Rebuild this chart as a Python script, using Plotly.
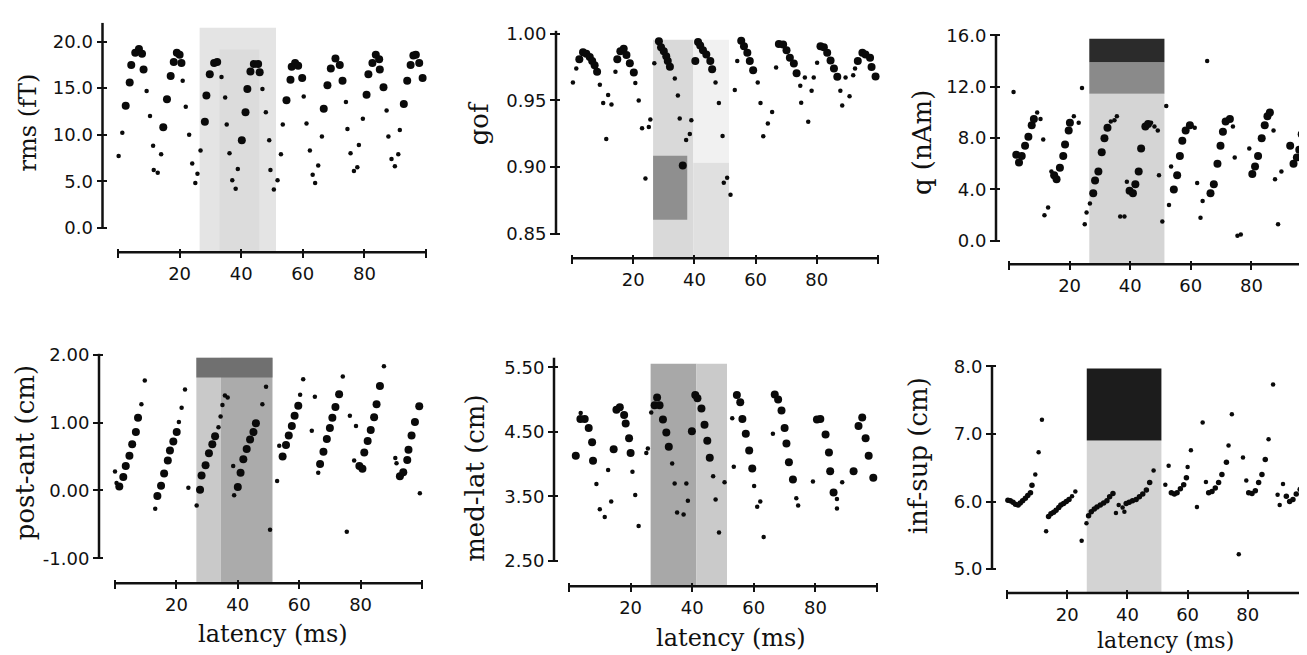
import plotly.graph_objects as go

# ---------------- data ----------------
rms_big_lat = [2.5, 3.8, 4.3, 5.6, 6.8, 7.8, 8.3, 14.7, 15.9, 17.1, 18.1, 19.1, 20.0, 20.6,
               28.2, 28.7, 29.8, 31.2, 32.2, 40.2, 41.4, 42.0, 43.0, 44.1, 45.5, 46.0,
               54.7, 56.0, 56.4, 57.5, 58.5, 59.8, 66.8, 68.0, 69.1, 70.6, 72.0, 72.9,
               80.7, 81.3, 82.6, 83.7, 84.8, 85.0, 86.2, 92.8, 93.9, 95.0, 95.9, 96.7, 97.8, 98.9]
rms_big_val = [13.1, 15.6, 17.5, 18.8, 19.2, 18.7, 17.0, 10.8, 13.8, 16.3, 17.8, 18.8, 18.6, 17.7,
               11.4, 14.2, 16.5, 17.7, 17.8, 9.4, 12.4, 14.9, 16.8, 17.6, 17.6, 16.7,
               13.7, 15.9, 17.3, 17.7, 17.4, 16.1, 12.8, 15.3, 17.1, 18.2, 17.5, 15.8,
               14.3, 16.5, 17.7, 18.6, 18.1, 17.0, 15.1, 13.3, 15.8, 17.5, 18.5, 18.6, 17.7, 16.1]
rms_small_lat = [0.2, 1.4, 9.3, 10.4, 11.4, 11.6, 12.9, 14.0, 21.0, 22.0, 23.1, 24.1, 25.1, 25.8, 26.8,
                 33.6, 34.8, 35.3, 36.2, 37.1, 38.2, 38.9, 46.9, 48.0, 49.1, 49.5, 50.6, 51.8, 52.9, 53.5,
                 60.3, 61.2, 62.3, 63.2, 64.0, 65.0, 66.2, 74.0, 74.5, 75.5, 76.6, 77.7, 78.2, 79.5,
                 87.2, 87.8, 88.8, 89.9, 91.0, 91.5]
rms_small_val = [7.7, 10.2, 14.7, 12.0, 8.8, 6.2, 5.9, 7.9, 15.8, 13.0, 10.0, 6.9, 4.8, 5.8, 8.3,
                 16.2, 14.0, 11.1, 8.0, 5.1, 4.2, 6.3, 14.9, 12.4, 9.4, 6.2, 4.1, 5.1, 7.9, 11.1,
                 14.1, 11.2, 8.3, 5.7, 4.8, 6.7, 9.8, 13.5, 10.6, 8.0, 6.1, 6.5, 8.9, 11.7,
                 12.6, 9.8, 7.4, 6.6, 7.9, 10.5]

gof_big_lat = [2.4, 3.6, 4.7, 5.8, 6.6, 7.4, 8.2, 14.8, 15.8, 16.9, 17.8, 18.9, 20.2,
               28.4, 29.1, 30.0, 30.8, 31.3, 32.0, 36.2, 40.3, 41.2, 41.9, 42.8, 43.9, 45.2, 45.8,
               55.3, 56.2, 57.3, 58.1, 59.2, 67.6, 69.0, 70.1, 71.2, 72.5, 73.4,
               81.2, 82.3, 83.4, 84.5, 85.6, 86.7, 93.4, 94.9, 95.9, 97.4, 97.9, 99.2]
gof_big_val = [0.9808, 0.9862, 0.9850, 0.9825, 0.9795, 0.9763, 0.9714, 0.9808, 0.9869, 0.9887, 0.9840, 0.9778, 0.9709,
               0.9943, 0.9899, 0.9869, 0.9832, 0.9795, 0.9753, 0.9011, 0.9795, 0.9938, 0.9911, 0.9877, 0.9845, 0.9795, 0.9734,
               0.9948, 0.9906, 0.9857, 0.9795, 0.9726, 0.9924, 0.9919, 0.9877, 0.9820, 0.9776, 0.9704,
               0.9906, 0.9899, 0.9857, 0.9800, 0.9739, 0.9677, 0.9795, 0.9857, 0.9845, 0.9820, 0.9750, 0.9680]
gof_small_lat = [0.3, 1.4, 9.1, 10.2, 11.2, 11.8, 12.9, 14.2, 20.7, 21.8, 22.9, 24.0, 25.1, 25.6, 26.9,
                 33.6, 34.6, 35.2, 37.3, 38.5, 39.0, 46.9, 48.0, 49.2, 49.6, 50.7, 51.8, 53.2, 54.0,
                 60.7, 61.6, 62.5, 64.0, 65.4, 66.7, 74.6, 74.9, 76.1, 77.2, 78.3, 79.0, 80.1,
                 87.7, 88.3, 89.4, 90.7, 91.9, 92.5]
gof_small_val = [0.9635, 0.9739, 0.9618, 0.9480, 0.9211, 0.9541, 0.9470, 0.9714, 0.9630, 0.9499, 0.9290, 0.8914, 0.9300, 0.9356, 0.9778,
                 0.9665, 0.9536, 0.9364, 0.9203, 0.9248, 0.9351, 0.9635, 0.9480, 0.9233, 0.8882, 0.8919, 0.8791, 0.9578, 0.9795,
                 0.9635, 0.9480, 0.9230, 0.9327, 0.9413, 0.9746, 0.9610, 0.9482, 0.9672, 0.9339, 0.9573, 0.9672, 0.9783,
                 0.9573, 0.9462, 0.9672, 0.9531, 0.9689, 0.9739]

q_big_lat = [2.4, 3.3, 4.2, 5.3, 6.4, 7.5, 8.2, 14.9, 15.7, 16.8, 17.9, 18.5, 19.7, 20.1,
             27.8, 28.4, 29.5, 30.6, 31.5, 32.5, 39.8, 40.9, 41.7, 42.8, 43.6, 45.0, 45.9,
             54.4, 55.5, 56.4, 57.2, 58.3, 59.7, 66.5, 67.6, 68.8, 69.8, 70.6, 71.5, 72.9,
             80.3, 81.2, 82.2, 83.4, 84.4, 85.3, 86.1, 92.8, 93.9, 95.0, 95.8, 96.6, 97.7, 98.6]
q_big_val = [6.7, 6.1, 6.6, 7.4, 8.1, 9.0, 9.5, 5.1, 4.8, 5.7, 6.6, 7.5, 8.6, 9.2,
             3.7, 4.7, 5.4, 6.9, 8.0, 8.8, 3.9, 3.7, 4.4, 5.4, 7.2, 8.9, 9.1,
             4.0, 5.1, 6.6, 7.8, 8.6, 9.0, 3.7, 4.4, 6.0, 7.4, 8.5, 9.3, 9.5,
             5.2, 5.8, 6.6, 8.0, 9.0, 9.7, 10.0, 7.4, 6.0, 6.5, 7.1, 8.3, 9.1, 9.8]
q_small_lat = [1.5, 9.3, 10.4, 11.3, 11.7, 12.9, 14.0, 21.4, 23.0, 24.1, 25.0, 25.6, 26.7,
               33.6, 34.8, 35.6, 36.7, 38.1, 38.9, 46.9, 48.0, 49.1, 49.5, 50.6, 51.9, 52.8, 53.5,
               61.3, 62.1, 63.2, 63.9, 65.4, 73.9, 74.5, 75.4, 76.5, 79.3, 87.3, 87.8, 88.8, 89.9]
q_small_val = [11.6, 10.0, 9.5, 7.9, 2.0, 2.6, 5.4, 9.7, 9.2, 11.9, 1.3, 2.2, 2.9,
               9.3, 9.4, 9.7, 1.9, 1.9, 4.6, 9.2, 8.9, 8.6, 5.1, 1.5, 10.5, 2.8, 5.8,
               8.8, 4.5, 1.8, 3.1, 14.0, 8.9, 6.5, 0.4, 0.5, 7.2, 8.6, 4.8, 1.3, 5.4]

pa_big_lat = [1.4, 2.7, 3.5, 4.7, 5.6, 6.8, 7.5, 13.8, 15.0, 16.0, 17.2, 17.9, 19.0, 20.1,
              27.7, 28.2, 29.5, 30.6, 31.7, 32.6, 40.0, 40.9, 41.8, 42.9, 44.0, 45.1, 45.9,
              54.6, 55.7, 56.6, 57.6, 58.5, 59.7, 66.8, 67.9, 69.0, 70.0, 70.8, 71.8, 73.0,
              79.6, 80.6, 81.2, 82.3, 83.3, 84.4, 85.2, 86.3, 92.8, 93.9, 95.2, 95.6, 96.6, 97.7, 99.1]
pa_big_val = [0.06, 0.20, 0.36, 0.51, 0.68, 0.86, 1.07, -0.08, 0.07, 0.25, 0.44, 0.59, 0.72, 0.86,
              0.01, 0.22, 0.37, 0.55, 0.68, 0.80, 0.05, 0.26, 0.46, 0.61, 0.75, 0.86, 0.99,
              0.50, 0.67, 0.81, 0.95, 1.10, 1.25, 0.39, 0.57, 0.76, 0.92, 1.07, 1.23, 1.42,
              0.36, 0.32, 0.56, 0.73, 0.89, 1.08, 1.27, 1.54, 0.21, 0.27, 0.45, 0.60, 0.81, 1.01, 1.24]
pa_small_lat = [0.0, 0.5, 8.6, 9.7, 13.1, 20.8, 21.7, 22.8, 23.9, 26.6, 33.7, 34.4, 35.0, 35.8, 36.7, 38.5, 38.8,
                48.0, 49.2, 50.5, 52.8, 53.5, 60.3, 61.3, 64.1, 65.1, 66.2, 74.2, 75.5, 76.5, 77.9, 78.5,
                87.6, 91.3, 91.7, 99.3]
pa_small_val = [0.28, 0.11, 1.27, 1.62, -0.27, 1.01, 1.22, 1.49, 0.04, -0.22, 0.93, 1.09, 1.26, 1.40, 1.37, 0.36, -0.07,
                1.27, 1.53, -0.58, 0.14, 0.66, 1.41, 1.64, 0.88, 1.38, 0.26, 1.68, -0.61, 1.10, 0.44, 0.95,
                1.83, 0.48, 0.40, -0.04]

ml_big_lat = [2.2, 3.7, 5.1, 6.4, 7.5, 7.8, 14.5, 15.4, 16.5, 17.9, 18.4, 19.5, 20.0,
              27.8, 28.6, 29.4, 30.5, 31.6, 32.4, 39.9, 41.0, 41.7, 43.0, 44.0, 44.9, 45.7,
              54.5, 55.6, 56.3, 57.4, 58.5, 59.5, 66.8, 67.9, 69.0, 70.0, 70.6, 71.4, 72.7,
              80.5, 81.6, 83.3, 84.4, 84.8, 85.9, 92.4, 94.0, 95.2, 96.3, 97.3, 98.8]
ml_big_val = [4.13, 4.70, 4.70, 4.56, 4.34, 4.05, 4.23, 4.84, 4.88, 4.76, 4.63, 4.40, 4.17,
              4.91, 5.03, 4.91, 4.69, 4.49, 4.27, 4.51, 5.07, 5.02, 4.86, 4.61, 4.36, 4.10,
              5.07, 4.96, 4.70, 4.47, 4.21, 3.93, 5.08, 5.00, 4.83, 4.56, 4.32, 4.03, 3.76,
              4.69, 4.70, 4.46, 4.18, 3.89, 3.56, 3.89, 4.59, 4.72, 4.40, 4.13, 3.79]
ml_small_lat = [3.8, 8.9, 10.0, 11.6, 12.7, 13.7, 20.6, 21.5, 22.6, 25.1, 25.6, 26.7,
                33.5, 34.3, 35.1, 37.2, 38.1, 38.6, 46.8, 47.6, 48.7, 50.5, 53.0, 53.5,
                60.1, 61.1, 62.1, 63.2, 66.2, 73.8, 74.4, 79.2, 87.0, 87.0, 88.7]
ml_small_val = [4.79, 3.69, 3.30, 3.18, 3.91, 3.42, 3.88, 3.52, 3.04, 4.17, 4.24, 4.80,
                4.01, 3.70, 3.25, 3.22, 3.70, 3.43, 3.81, 3.45, 2.94, 3.72, 4.71, 3.96,
                3.66, 3.34, 3.42, 2.87, 4.47, 3.47, 3.36, 3.73, 3.46, 3.31, 3.72]

is_big_lat = [0.3, 1.1, 2.0, 2.8, 3.7, 4.4, 5.2, 6.1, 6.9, 7.8, 8.3,
              13.8, 14.6, 15.5, 16.3, 17.2, 17.9, 18.8, 19.7, 20.6,
              27.1, 28.0, 29.0, 29.9, 31.0, 32.1, 33.2, 34.1, 35.2,
              39.6, 40.6, 41.7, 42.9, 44.0, 45.1, 46.3, 47.4,
              54.6, 55.6, 56.5, 57.6, 58.7, 59.6, 67.0, 68.1, 69.2, 70.3, 71.4, 72.9,
              80.3, 81.4, 82.5, 83.6, 84.7, 85.8, 92.8, 93.9, 95.0, 96.1, 97.4, 98.6]
is_big_val = [6.02, 6.01, 5.99, 5.96, 5.95, 5.98, 6.01, 6.05, 6.09, 6.13, 6.24,
              5.78, 5.82, 5.84, 5.87, 5.91, 5.95, 5.97, 6.00, 6.03,
              5.79, 5.85, 5.89, 5.92, 5.95, 5.98, 6.01, 6.07, 6.12,
              5.97, 5.99, 6.01, 6.03, 6.07, 6.11, 6.17, 6.28,
              6.13, 6.11, 6.13, 6.19, 6.25, 6.35, 6.13, 6.15, 6.20, 6.28, 6.40, 6.58,
              6.13, 6.12, 6.16, 6.28, 6.40, 6.62, 6.08, 6.00, 6.03, 6.11, 6.18, 6.30]
is_small_lat = [9.4, 10.5, 11.6, 13.0, 21.6, 22.7, 24.8, 26.4, 36.2, 37.1, 38.4, 39.0, 48.7, 52.6, 53.7,
                60.0, 61.1, 63.1, 65.0, 66.1, 73.6, 74.7, 77.0, 78.4, 79.5, 86.9, 88.4, 89.9, 90.6, 91.7]
is_small_val = [6.40, 6.73, 7.21, 5.56, 6.08, 6.15, 5.42, 5.68, 5.83, 5.95, 5.91, 5.85, 6.46, 6.25, 6.53,
                6.51, 6.76, 5.92, 7.17, 6.29, 6.83, 7.29, 5.22, 6.65, 6.31, 6.92, 7.73, 6.10, 5.95, 6.26]

lat_ticks = [0, 20, 40, 60, 80, 100]
lat_ticktext = ["", "20", "40", "60", "80", ""]
rms_ticks = [0, 5, 10, 15, 20]
rms_ticktext = ["0.0", "5.0", "10.0", "15.0", "20.0"]
gof_ticks = [0.85, 0.90, 0.95, 1.00]
gof_ticktext = ["0.85", "0.90", "0.95", "1.00"]
q_ticks = [0, 4, 8, 12, 16]
q_ticktext = ["0.0", "4.0", "8.0", "12.0", "16.0"]
pa_ticks = [-1, 0, 1, 2]
pa_ticktext = ["-1.00", "0.00", "1.00", "2.00"]
ml_ticks = [2.5, 3.5, 4.5, 5.5]
ml_ticktext = ["2.50", "3.50", "4.50", "5.50"]
is_ticks = [5, 6, 7, 8]
is_ticktext = ["5.0", "6.0", "7.0", "8.0"]
window_ms = [26.5, 51.3]

# ---------------- layout geometry (screen pixels) ----------------
W, H = 1307, 655
OFF = 8  # default page margin around the figure
TICK_FONT = dict(family="DejaVu Sans", size=18, color="#111111")
TITLE_FONT_FAMILY = "DejaVu Serif"

panels = [
    dict(big=(rms_big_lat, rms_big_val), small=(rms_small_lat, rms_small_val), sizes=(8, 4.5),
         yline=102.5, ya=(0, 221), yb=(20, 32), ytop=13, ylo=0, x0=118, x100=426, xline=246, right=432,
         ticks=(rms_ticks, rms_ticktext), title="rms (fT)", tpos=(28, 114), tsize=24,
         shades=[(0, 1, 18, 246, "#e4e4e4"), (0.26, 0.78, 40, 246, "#dcdcdc")]),
    dict(big=(gof_big_lat, gof_big_val), small=(gof_small_lat, gof_small_val), sizes=(8, 4.5),
         yline=556, ya=(0.85, 227), yb=(1.00, 24), ytop=21, ylo=0.85, x0=572, x100=878, xline=252, right=884,
         ticks=(gof_ticks, gof_ticktext), title="gof", tpos=(479, 115), tsize=26,
         shades=[(0, 0.53, 30, 252, "#d9d9d9"), (0.53, 1, 30, 155, "#f1f1f1"),
                 (0.53, 1, 155, 252, "#e0e0e0"), (0, 0.45, 148, 213, "#8f8f8f")]),
    dict(big=(q_big_lat, q_big_val), small=(q_small_lat, q_small_val), sizes=(8, 4.5),
         yline=996, ya=(0, 234.3), yb=(16, 25.7), ytop=25, ylo=0, x0=1009, x100=1312, xline=258, right=1315,
         ticks=(q_ticks, q_ticktext), title="q (nAm)", tpos=(922, 135), tsize=26,
         shades=[(0, 1, 85, 258, "#d5d5d5"), (0, 1, 53, 85, "#8a8a8a"), (0, 1, 29, 53, "#2b2b2b")]),
    dict(big=(pa_big_lat, pa_big_val), small=(pa_small_lat, pa_small_val), sizes=(8, 4.5),
         yline=99, ya=(-1, 556.7), yb=(2, 350), ytop=349, ylo=-1, x0=115, x100=422, xline=582, right=428,
         ticks=(pa_ticks, pa_ticktext), title="post-ant (cm)", tpos=(25, 450), tsize=26,
         shades=[(0, 0.32, 353, 582, "#c9c9c9"), (0.32, 1, 353, 582, "#ababab"), (0, 1, 353, 373, "#707070")]),
    dict(big=(ml_big_lat, ml_big_val), small=(ml_small_lat, ml_small_val), sizes=(8, 4.5),
         yline=554, ya=(2.5, 559.3), yb=(5.5, 362.7), ytop=353, ylo=2.5, x0=569, x100=877, xline=585, right=884,
         ticks=(ml_ticks, ml_ticktext), title="med-lat (cm)", tpos=(475, 475), tsize=26,
         shades=[(0, 0.6, 359, 585, "#a8a8a8"), (0.6, 1, 359, 585, "#cacaca")]),
    dict(big=(is_big_lat, is_big_val), small=(is_small_lat, is_small_val), sizes=(5.5, 4.5),
         yline=992, ya=(5, 567.7), yb=(8, 361.7), ytop=361, ylo=5, x0=1007, x100=1308, xline=592, right=1315,
         ticks=(is_ticks, is_ticktext), title="inf-sup (cm)", tpos=(918, 453), tsize=26,
         shades=[(0, 1, 437, 592, "#d3d3d3"), (0, 1, 364, 437, "#1c1c1c")]),
]

xlabel_pos = [(273, 634, 24), (731, 638, 24), (1165, 640, 22)]

fig = go.Figure()
shapes = []
annotations = []
layout_axes = {}


def px_x(p):
    return (p - OFF) / W


def px_y(p):
    return 1 - (p - OFF) / H


for i, p in enumerate(panels, start=1):
    xname = "x" if i == 1 else f"x{i}"
    yname = "y" if i == 1 else f"y{i}"
    sx = (p["x100"] - p["x0"]) / 100.0
    L = p["yline"] + 5
    R = p["right"]
    (va, pa), (vb, pb) = p["ya"], p["yb"]
    sy = (pa - pb) / (vb - va)

    def yval(px, va=va, pa=pa, sy=sy):
        return va + (pa - px) / sy

    def ypix(v, va=va, pa=pa, sy=sy):
        return pa - (v - va) * sy

    def xpix(v, x0=p["x0"], sx=sx):
        return x0 + v * sx

    T = p["ytop"]
    B = p["xline"] - 4
    layout_axes["xaxis" if i == 1 else f"xaxis{i}"] = dict(
        domain=[max(px_x(L), 0.0), min(px_x(R), 1.0)],
        range=[(L - p["x0"]) / sx, (OFF + min(px_x(R), 1.0) * W - p["x0"]) / sx],
        anchor=yname, showline=False, showgrid=False, zeroline=False,
        tickmode="array", tickvals=lat_ticks, ticktext=lat_ticktext,
        ticks="outside", ticklen=9, tickwidth=2, tickcolor="#111111",
        tickfont=TICK_FONT, ticklabelstandoff=0, fixedrange=True)
    layout_axes["yaxis" if i == 1 else f"yaxis{i}"] = dict(
        domain=[px_y(B), px_y(T)], range=[yval(B), yval(T)],
        anchor=xname, showline=False, showgrid=False, zeroline=False,
        tickmode="array", tickvals=p["ticks"][0], ticktext=p["ticks"][1],
        ticks="outside", ticklen=10, tickwidth=2, tickcolor="#111111",
        tickfont=TICK_FONT, fixedrange=True)

    # response window shading
    w0, w1 = xpix(window_ms[0]), xpix(window_ms[1])
    for f0, f1, t, b, col in p["shades"]:
        shapes.append(dict(type="rect", xref="paper", yref="paper",
                           x0=px_x(w0 + f0 * (w1 - w0)), x1=px_x(w0 + f1 * (w1 - w0)),
                           y0=px_y(b), y1=px_y(t), fillcolor=col, line=dict(width=0), layer="below"))
    # axis lines
    shapes.append(dict(type="line", xref="paper", yref="paper",
                       x0=px_x(p["yline"]), x1=px_x(p["yline"]),
                       y0=px_y(ypix(p["ylo"])), y1=px_y(T), line=dict(color="#111111", width=2.5)))
    shapes.append(dict(type="line", xref="paper", yref="paper",
                       x0=px_x(xpix(0)), x1=min(px_x(xpix(100)), 1.0),
                       y0=px_y(p["xline"]), y1=px_y(p["xline"]), line=dict(color="#111111", width=2.5)))

    bs, ss = p["sizes"]
    fig.add_trace(go.Scatter(x=p["small"][0], y=p["small"][1], mode="markers", xaxis=xname, yaxis=yname,
                             marker=dict(color="#0a0a0a", size=ss, line=dict(width=0)),
                             cliponaxis=False, showlegend=False, hoverinfo="x+y"))
    fig.add_trace(go.Scatter(x=p["big"][0], y=p["big"][1], mode="markers", xaxis=xname, yaxis=yname,
                             marker=dict(color="#0a0a0a", size=bs, line=dict(width=0)),
                             cliponaxis=False, showlegend=False, hoverinfo="x+y"))

    tx, ty = p["tpos"]
    annotations.append(dict(text=p["title"], x=px_x(tx), y=px_y(ty), xref="paper", yref="paper",
                            showarrow=False, textangle=-90, xanchor="center", yanchor="middle",
                            font=dict(family=TITLE_FONT_FAMILY, size=p["tsize"], color="#111111")))

for (lx, ly, fs) in xlabel_pos:
    annotations.append(dict(text="latency (ms)", x=px_x(lx), y=px_y(ly), xref="paper", yref="paper",
                            showarrow=False, xanchor="center", yanchor="middle",
                            font=dict(family=TITLE_FONT_FAMILY, size=fs, color="#111111")))

fig.update_layout(width=W, height=H, margin=dict(l=0, r=0, t=0, b=0),
                  paper_bgcolor="white", plot_bgcolor="rgba(0,0,0,0)",
                  shapes=shapes, annotations=annotations, **layout_axes)

fig.write_html("out.html")
